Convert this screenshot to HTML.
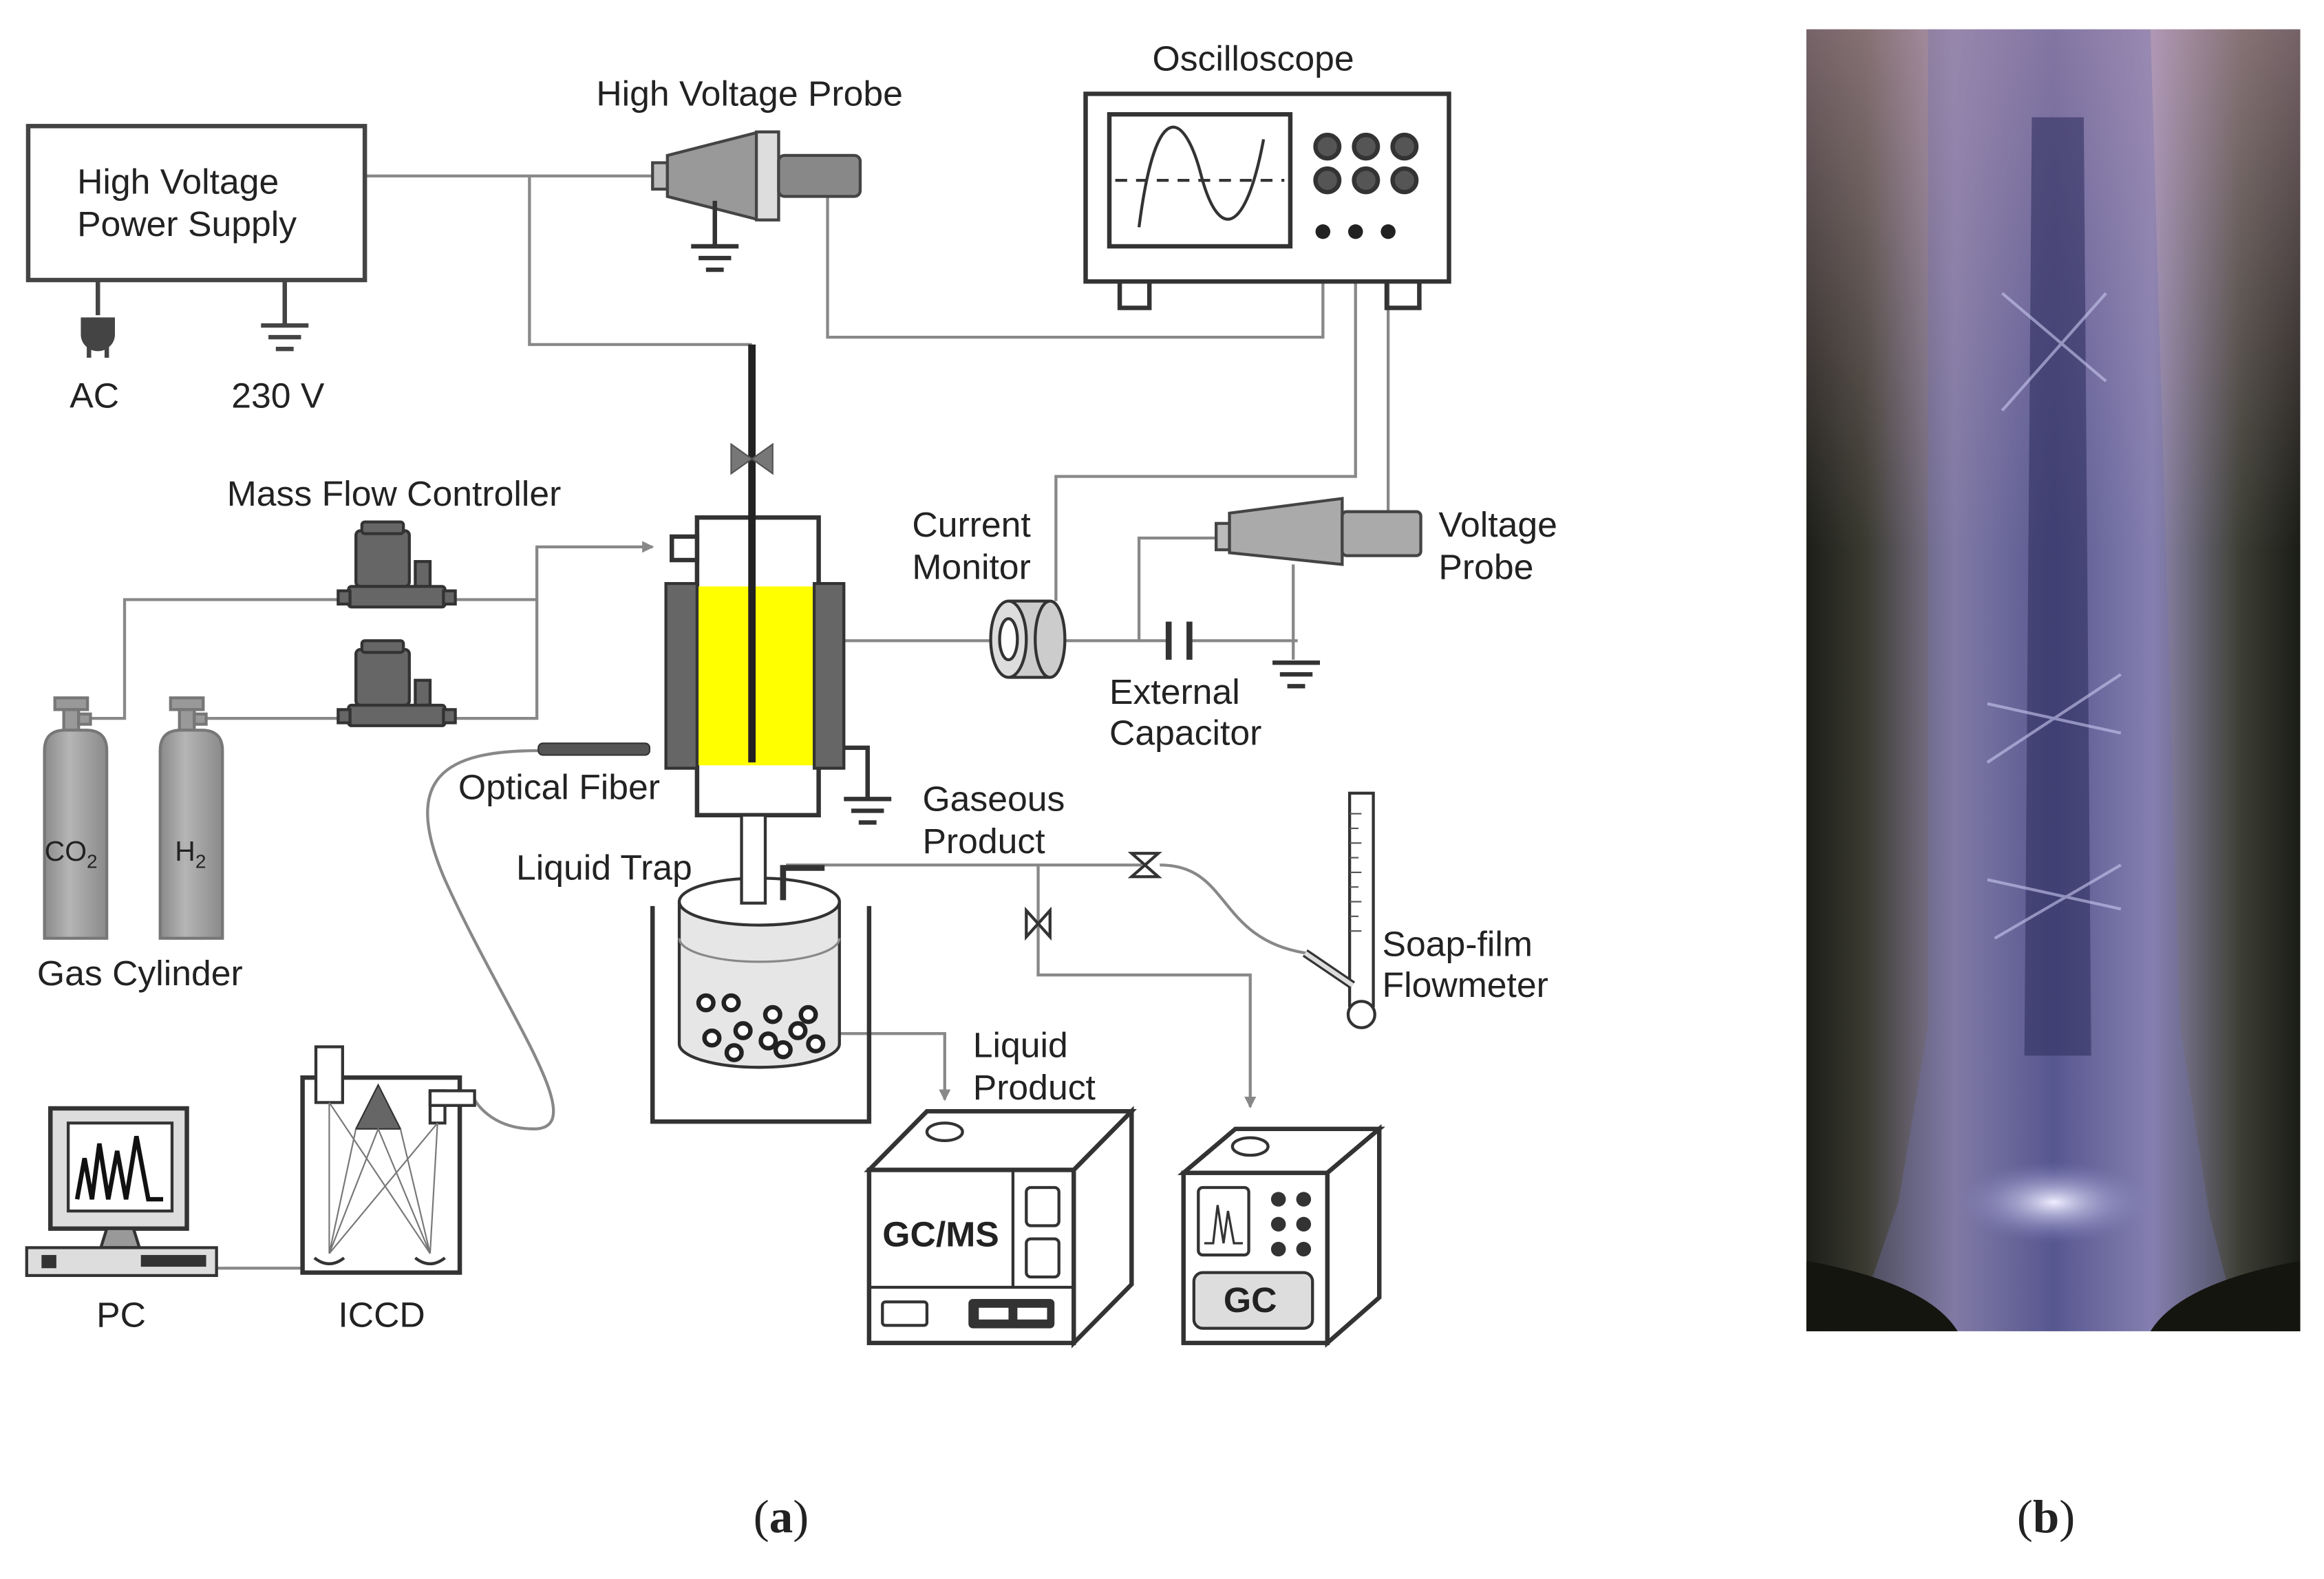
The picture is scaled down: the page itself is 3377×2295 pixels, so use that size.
<!DOCTYPE html>
<html><head><meta charset="utf-8"><style>
html,body{margin:0;padding:0;background:#fff;}
svg{display:block;}
text{font-family:"Liberation Sans",Arial,sans-serif;fill:#222;}
</style></head><body>
<svg width="3377" height="2295" viewBox="0 0 1567 1077" preserveAspectRatio="none" xmlns="http://www.w3.org/2000/svg">
<defs>
<marker id="ar" markerWidth="8" markerHeight="8" refX="7" refY="4" orient="auto" markerUnits="userSpaceOnUse"><path d="M0,0 L8,4 L0,8 z" fill="#888"/></marker>
<linearGradient id="cyl" x1="0" x2="1"><stop offset="0" stop-color="#8a8a8a"/><stop offset="0.4" stop-color="#b5b5b5"/><stop offset="1" stop-color="#8a8a8a"/></linearGradient>
<linearGradient id="ph" x1="0" x2="1"><stop offset="0" stop-color="#1c1e18"/><stop offset="0.12" stop-color="#3a3a30"/><stop offset="0.3" stop-color="#8a80a0"/><stop offset="0.5" stop-color="#4a4a80"/><stop offset="0.7" stop-color="#9088b0"/><stop offset="0.88" stop-color="#3c3e34"/><stop offset="1" stop-color="#1a1c16"/></linearGradient>
<linearGradient id="top" x1="0" y1="0" x2="0" y2="1"><stop offset="0" stop-color="#d0a8b8" stop-opacity="0.5"/><stop offset="0.4" stop-color="#d0a8b8" stop-opacity="0"/></linearGradient>
<radialGradient id="glow" cx="0.5" cy="0.5" r="0.5"><stop offset="0" stop-color="#f0eeff" stop-opacity="1"/><stop offset="1" stop-color="#8080c0" stop-opacity="0"/></radialGradient>
</defs>
<g fill="none" stroke="#888" stroke-width="2">
<polyline points="246,120 440,120"/>
<polyline points="357,120 357,235 507,235"/>
<polyline points="580,120 558,120 558,230 892,230 892,158"/>
<polyline points="914,158 914,325 712,325 712,410"/>
<polyline points="936,158 936,350"/>
<polyline points="569,437 670,437"/>
<polyline points="718,437 787,437"/>
<polyline points="803,437 875,437"/>
<polyline points="768,437 768,367 820,367"/>
<polyline points="872,385 872,450"/>
<polyline points="60,490 84,490 84,409 230,409"/>
<polyline points="138,490 230,490"/>
<polyline points="305,409 362,409"/>
<polyline points="305,490 362,490 362,373 440,373" marker-end="url(#ar)"/>
<polyline points="146,865 204,865"/>
<path d="M363,512 C300,512 270,530 300,600 C340,690 400,770 360,770 C330,770 320,750 320,750"/>
<polyline points="530,590 770,590"/>
<path d="M782,590 C830,590 820,640 880,650 L900,662"/>
<polyline points="700,590 700,665 843,665 843,755" marker-end="url(#ar)"/>
<polyline points="550,705 637,705 637,750" marker-end="url(#ar)"/>
</g>
<rect x="19" y="86" width="227" height="105" fill="#fff" stroke="#444" stroke-width="3"/>
<text x="52" y="132" font-size="24">High Voltage</text>
<text x="52" y="161" font-size="24">Power Supply</text>
<g stroke="#444" stroke-width="3" fill="none">
<line x1="66" y1="191" x2="66" y2="215"/><path d="M56,218 h20 v10 a10,10 0 0 1 -20,0 z" fill="#444"/>
<line x1="60" y1="236" x2="60" y2="244"/><line x1="72" y1="236" x2="72" y2="244"/>
<line x1="192" y1="191" x2="192" y2="222"/><line x1="176" y1="222" x2="208" y2="222"/><line x1="181" y1="230" x2="203" y2="230"/><line x1="186" y1="238" x2="198" y2="238"/>
</g>
<text x="47" y="278" font-size="24">AC</text>
<text x="156" y="278" font-size="24">230 V</text>
<text x="402" y="72" font-size="24">High Voltage Probe</text>
<rect x="440" y="111" width="10" height="18" fill="#bbb" stroke="#444" stroke-width="2"/>
<path d="M450,106 L512,90 L525,90 L525,150 L512,150 L450,134 z" fill="#999" stroke="#444" stroke-width="2"/>
<rect x="510" y="90" width="15" height="60" fill="#ddd" stroke="#444" stroke-width="2"/>
<rect x="525" y="106" width="55" height="28" rx="4" fill="#888" stroke="#444" stroke-width="2"/>
<g stroke="#333" stroke-width="3"><line x1="482" y1="137" x2="482" y2="168"/><line x1="466" y1="168" x2="498" y2="168"/><line x1="471" y1="176" x2="493" y2="176"/><line x1="476" y1="184" x2="488" y2="184"/></g>
<text x="777" y="48" font-size="24">Oscilloscope</text>
<rect x="732" y="64" width="245" height="128" fill="#fff" stroke="#333" stroke-width="3"/>
<rect x="748" y="78" width="122" height="90" fill="#fff" stroke="#333" stroke-width="3"/>
<line x1="752" y1="123" x2="866" y2="123" stroke="#333" stroke-width="2" stroke-dasharray="8,6"/>
<path d="M768,155 C780,60 800,80 810,120 C822,165 840,160 852,95" fill="none" stroke="#333" stroke-width="2"/>
<g fill="#555" stroke="#333" stroke-width="3"><circle cx="895" cy="100" r="8"/><circle cx="921" cy="100" r="8"/><circle cx="947" cy="100" r="8"/><circle cx="895" cy="123" r="8"/><circle cx="921" cy="123" r="8"/><circle cx="947" cy="123" r="8"/></g>
<g fill="#222"><circle cx="892" cy="158" r="5"/><circle cx="914" cy="158" r="5"/><circle cx="936" cy="158" r="5"/></g>
<path d="M755,192 v18 h20 v-18 M935,192 v18 h22 v-18" fill="none" stroke="#333" stroke-width="3"/>
<rect x="470" y="353" width="82" height="203" fill="#fff" stroke="#333" stroke-width="3"/>
<rect x="471" y="400" width="78" height="122" fill="#ffff00"/>
<rect x="449" y="398" width="21" height="126" fill="#666" stroke="#333" stroke-width="2"/>
<rect x="549" y="398" width="20" height="126" fill="#666" stroke="#333" stroke-width="2"/>
<rect x="453" y="366" width="17" height="16" fill="#fff" stroke="#333" stroke-width="3"/>
<line x1="507" y1="235" x2="507" y2="520" stroke="#222" stroke-width="5"/>
<path d="M493,303 L507,313 L493,323 z M521,303 L507,313 L521,323 z" fill="#777" stroke="#555"/>
<g stroke="#333" stroke-width="3" fill="none"><polyline points="569,510 585,510 585,545"/><line x1="569" y1="545" x2="601" y2="545"/><line x1="574" y1="553" x2="596" y2="553"/><line x1="579" y1="561" x2="591" y2="561"/></g>
<text x="615" y="366" font-size="24">Current</text>
<text x="615" y="395" font-size="24">Monitor</text>
<rect x="680" y="410" width="30" height="52" fill="#ccc"/>
<ellipse cx="708" cy="436" rx="10" ry="26" fill="#ccc" stroke="#333" stroke-width="2"/>
<line x1="680" y1="410" x2="708" y2="410" stroke="#333" stroke-width="2"/><line x1="680" y1="462" x2="708" y2="462" stroke="#333" stroke-width="2"/>
<ellipse cx="680" cy="436" rx="12" ry="26" fill="#ddd" stroke="#333" stroke-width="2"/>
<ellipse cx="680" cy="436" rx="6" ry="14" fill="#fff" stroke="#333" stroke-width="2"/>
<g stroke="#333" stroke-width="4"><line x1="788" y1="424" x2="788" y2="450"/><line x1="802" y1="424" x2="802" y2="450"/></g>
<g stroke="#333" stroke-width="3"><line x1="858" y1="452" x2="890" y2="452"/><line x1="863" y1="460" x2="885" y2="460"/><line x1="868" y1="468" x2="880" y2="468"/></g>
<text x="748" y="480" font-size="24">External</text>
<text x="748" y="508" font-size="24">Capacitor</text>
<rect x="820" y="357" width="9" height="18" fill="#bbb" stroke="#444" stroke-width="2"/>
<path d="M829,350 L905,340 L905,385 L829,377 z" fill="#aaa" stroke="#444" stroke-width="2"/>
<rect x="905" y="349" width="53" height="30" rx="3" fill="#aaa" stroke="#444" stroke-width="2"/>
<text x="970" y="366" font-size="24">Voltage</text>
<text x="970" y="395" font-size="24">Probe</text>
<text x="153" y="345" font-size="24">Mass Flow Controller</text>
<g fill="#666" stroke="#333" stroke-width="2">
<rect x="240" y="362" width="36" height="38" rx="3"/><rect x="244" y="356" width="28" height="8" rx="2"/><rect x="280" y="383" width="10" height="17"/><rect x="235" y="400" width="65" height="14" rx="2"/><rect x="228" y="403" width="8" height="9"/><rect x="299" y="403" width="8" height="9"/>
<rect x="240" y="443" width="36" height="38" rx="3"/><rect x="244" y="437" width="28" height="8" rx="2"/><rect x="280" y="464" width="10" height="17"/><rect x="235" y="481" width="65" height="14" rx="2"/><rect x="228" y="484" width="8" height="9"/><rect x="299" y="484" width="8" height="9"/>
</g>
<g stroke="#777" stroke-width="2">
<rect x="37" y="476" width="22" height="8" fill="#999"/><rect x="43" y="484" width="10" height="14" fill="#999"/><rect x="53" y="487" width="8" height="7" fill="#999"/>
<path d="M30,640 V512 Q30,498 44,498 H58 Q72,498 72,512 V640 z" fill="url(#cyl)"/>
<rect x="115" y="476" width="22" height="8" fill="#999"/><rect x="121" y="484" width="10" height="14" fill="#999"/><rect x="131" y="487" width="8" height="7" fill="#999"/>
<path d="M108,640 V512 Q108,498 122,498 H136 Q150,498 150,512 V640 z" fill="url(#cyl)"/>
</g>
<text x="30" y="587" font-size="19">CO<tspan font-size="13" dy="5">2</tspan></text>
<text x="118" y="587" font-size="19">H<tspan font-size="13" dy="5">2</tspan></text>
<text x="25" y="672" font-size="24">Gas Cylinder</text>
<rect x="363" y="507" width="75" height="8" rx="3" fill="#555" stroke="#333"/>
<text x="309" y="545" font-size="24">Optical Fiber</text>
<text x="348" y="600" font-size="24">Liquid Trap</text>
<polyline points="440,618 440,765 586,765 586,618" fill="none" stroke="#333" stroke-width="3"/>
<path d="M458,615 V712 A54,16 0 0 0 566,712 V615" fill="#e6e6e6" stroke="#333" stroke-width="2"/>
<path d="M458,640 A54,16 0 0 0 566,640" fill="none" stroke="#888" stroke-width="1.5"/>
<ellipse cx="512" cy="615" rx="54" ry="16" fill="#fff" stroke="#333" stroke-width="2"/>
<rect x="500" y="556" width="16" height="60" fill="#fff" stroke="#333" stroke-width="2"/>
<path d="M528,614 V592 H556" fill="none" stroke="#333" stroke-width="4"/>
<g fill="#fff" stroke="#222" stroke-width="3">
<circle cx="476" cy="684" r="5"/><circle cx="493" cy="684" r="5"/><circle cx="521" cy="692" r="5"/><circle cx="545" cy="692" r="5"/>
<circle cx="480" cy="708" r="5"/><circle cx="501" cy="703" r="5"/><circle cx="518" cy="710" r="5"/><circle cx="538" cy="703" r="5"/>
<circle cx="495" cy="718" r="5"/><circle cx="528" cy="716" r="5"/><circle cx="550" cy="712" r="5"/></g>
<text x="622" y="553" font-size="24">Gaseous</text>
<text x="622" y="582" font-size="24">Product</text>
<path d="M763,582 L781,582 L763,598 L781,598 z" fill="#fff" stroke="#333" stroke-width="2"/>
<path d="M692,621 L692,639 L708,621 L708,639 z" fill="#fff" stroke="#333" stroke-width="2"/>
<rect x="910" y="541" width="16" height="145" fill="#fff" stroke="#333" stroke-width="2"/>
<g stroke="#555" stroke-width="1">
<line x1="910" y1="555" x2="918" y2="555"/><line x1="910" y1="565" x2="916" y2="565"/><line x1="910" y1="575" x2="918" y2="575"/><line x1="910" y1="585" x2="916" y2="585"/><line x1="910" y1="595" x2="918" y2="595"/><line x1="910" y1="605" x2="916" y2="605"/><line x1="910" y1="615" x2="918" y2="615"/><line x1="910" y1="625" x2="916" y2="625"/><line x1="910" y1="635" x2="918" y2="635"/></g>
<path d="M880,650 L912,672" stroke="#333" stroke-width="6"/>
<path d="M880,650 L912,672" stroke="#ddd" stroke-width="3"/>
<circle cx="918" cy="692" r="9" fill="#fff" stroke="#333" stroke-width="2"/>
<text x="932" y="652" font-size="24">Soap-film</text>
<text x="932" y="680" font-size="24">Flowmeter</text>
<text x="656" y="721" font-size="24">Liquid</text>
<text x="656" y="750" font-size="24">Product</text>
<path d="M586,798 L625,758 L763,758 L724,798 z" fill="#fff" stroke="#333" stroke-width="3"/>
<path d="M724,798 L763,758 L763,876 L724,916 z" fill="#fff" stroke="#333" stroke-width="3"/>
<rect x="586" y="798" width="138" height="118" fill="#fff" stroke="#333" stroke-width="3"/>
<ellipse cx="637" cy="772" rx="12" ry="6" fill="#fff" stroke="#333" stroke-width="2"/>
<line x1="683" y1="798" x2="683" y2="878" stroke="#333" stroke-width="2"/>
<line x1="586" y1="878" x2="724" y2="878" stroke="#333" stroke-width="2"/>
<rect x="692" y="810" width="22" height="26" rx="3" fill="#fff" stroke="#333" stroke-width="2"/>
<rect x="692" y="845" width="22" height="26" rx="3" fill="#fff" stroke="#333" stroke-width="2"/>
<rect x="595" y="888" width="30" height="16" rx="2" fill="#fff" stroke="#333" stroke-width="2"/>
<rect x="653" y="886" width="58" height="20" rx="3" fill="#333"/>
<rect x="660" y="892" width="20" height="8" fill="#fff"/><rect x="686" y="892" width="20" height="8" fill="#fff"/>
<text x="595" y="850" font-size="24" font-weight="bold">GC/MS</text>
<path d="M798,800 L833,770 L930,770 L895,800 z" fill="#fff" stroke="#333" stroke-width="3"/>
<path d="M895,800 L930,770 L930,885 L895,916 z" fill="#fff" stroke="#333" stroke-width="3"/>
<rect x="798" y="800" width="97" height="116" fill="#fff" stroke="#333" stroke-width="3"/>
<ellipse cx="843" cy="782" rx="12" ry="6" fill="#fff" stroke="#333" stroke-width="2"/>
<rect x="808" y="810" width="34" height="46" rx="3" fill="#fff" stroke="#333" stroke-width="2"/>
<path d="M812,848 L818,848 L821,822 L825,848 L828,826 L832,848 L838,848" fill="none" stroke="#333" stroke-width="1.5"/>
<g fill="#333"><circle cx="862" cy="818" r="5"/><circle cx="879" cy="818" r="5"/><circle cx="862" cy="835" r="5"/><circle cx="879" cy="835" r="5"/><circle cx="862" cy="852" r="5"/><circle cx="879" cy="852" r="5"/></g>
<rect x="805" y="868" width="80" height="38" rx="6" fill="#ddd" stroke="#333" stroke-width="2"/>
<text x="825" y="895" font-size="24" font-weight="bold">GC</text>
<rect x="34" y="756" width="92" height="82" fill="#ddd" stroke="#333" stroke-width="3"/>
<rect x="46" y="766" width="70" height="60" fill="#fff" stroke="#333" stroke-width="2"/>
<path d="M52,818 L57,790 L62,818 L67,780 L73,818 L79,785 L85,818 L92,775 L100,818 L110,818" fill="none" stroke="#111" stroke-width="3"/>
<path d="M72,838 L90,838 L94,851 L68,851 z" fill="#999" stroke="#333" stroke-width="2"/>
<rect x="18" y="851" width="128" height="19" fill="#ddd" stroke="#333" stroke-width="2"/>
<rect x="28" y="856" width="10" height="9" fill="#333"/><rect x="95" y="856" width="44" height="8" fill="#333"/>
<text x="65" y="905" font-size="24">PC</text>
<rect x="204" y="735" width="106" height="133" fill="#fff" stroke="#333" stroke-width="3"/>
<rect x="213" y="714" width="18" height="38" fill="#fff" stroke="#333" stroke-width="2"/>
<path d="M255,740 L240,770 L270,770 z" fill="#666" stroke="#333"/>
<rect x="290" y="744" width="10" height="22" fill="#fff" stroke="#333" stroke-width="2"/><rect x="290" y="744" width="30" height="10" fill="#fff" stroke="#333" stroke-width="2"/>
<g stroke="#777" stroke-width="1" fill="none"><path d="M222,752 L222,855 M222,855 L255,770 L290,855 L295,766 M240,770 L222,855 M270,770 L290,855 M222,752 L290,855 M295,766 L222,855"/></g>
<path d="M212,858 Q222,866 232,858 M280,858 Q290,866 300,858" fill="none" stroke="#333" stroke-width="2"/>
<text x="228" y="905" font-size="24">ICCD</text>
<text x="508" y="1045" font-size="32" style="font-family:'Liberation Serif',serif">(<tspan font-weight="bold">a</tspan>)</text>
<text x="1360" y="1045" font-size="32" style="font-family:'Liberation Serif',serif">(<tspan font-weight="bold">b</tspan>)</text>
<rect x="1218" y="20" width="333" height="888" fill="url(#ph)"/>
<rect x="1218" y="20" width="333" height="888" fill="url(#top)"/>
<path d="M1300,20 L1450,20 L1470,700 L1490,830 L1510,908 L1250,908 L1280,820 L1300,700 z" fill="#7070b0" opacity="0.35"/>
<path d="M1370,80 L1405,80 L1410,720 L1365,720 z" fill="#303060" opacity="0.6"/>
<g stroke="#c8c8f0" stroke-width="2" opacity="0.6">
<line x1="1350" y1="200" x2="1420" y2="260"/><line x1="1420" y1="200" x2="1350" y2="280"/>
<line x1="1340" y1="480" x2="1430" y2="500"/><line x1="1430" y1="460" x2="1340" y2="520"/>
<line x1="1340" y1="600" x2="1430" y2="620"/><line x1="1430" y1="590" x2="1345" y2="640"/>
</g>
<ellipse cx="1385" cy="820" rx="65" ry="28" fill="url(#glow)"/>
<path d="M1218,860 Q1300,875 1320,908 L1218,908 z M1551,860 Q1470,875 1450,908 L1551,908 z" fill="#15150f"/>
</svg>
</body></html>
